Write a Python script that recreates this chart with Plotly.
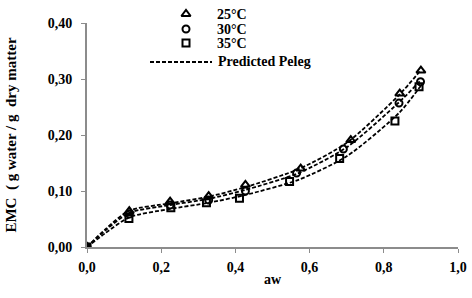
import plotly.graph_objects as go

# Experimental data (water activity, EMC)
aw_25 = [0.0, 0.114, 0.224, 0.328, 0.427, 0.576, 0.711, 0.843, 0.900]
emc_25 = [0.0, 0.064, 0.081, 0.091, 0.111, 0.140, 0.191, 0.274, 0.315]
aw_30 = [0.0, 0.114, 0.224, 0.328, 0.427, 0.565, 0.691, 0.841, 0.899]
emc_30 = [0.0, 0.059, 0.075, 0.084, 0.100, 0.132, 0.175, 0.257, 0.295]
aw_35 = [0.0, 0.113, 0.226, 0.322, 0.411, 0.546, 0.681, 0.830, 0.895]
emc_35 = [0.0, 0.051, 0.070, 0.079, 0.087, 0.117, 0.158, 0.225, 0.286]

# Predicted Peleg curves
pred_aw = [0.0, 0.05, 0.114, 0.224, 0.328, 0.427, 0.57, 0.70, 0.842, 0.900]
pred_25 = [0.0, 0.032, 0.065, 0.078, 0.090, 0.107, 0.139, 0.186, 0.272, 0.316]
pred_30 = [0.0, 0.030, 0.061, 0.075, 0.086, 0.102, 0.132, 0.178, 0.259, 0.298]
pred_35 = [0.0, 0.025, 0.053, 0.068, 0.079, 0.093, 0.120, 0.162, 0.240, 0.288]

x_ticks = [0.0, 0.2, 0.4, 0.6, 0.8, 1.0]
y_ticks = [0.0, 0.1, 0.2, 0.3, 0.4]

series_names = ["25°C", "30°C", "35°C"]
series_symbols = ["triangle-up-open", "circle-open", "square-open"]
series_sizes = [8, 7, 7]
model_name = "Predicted Peleg"

FONT = "Liberation Serif"
W, H = 472, 298
L, R, T, B = 87, 14, 23, 51          # plot box margins (pixels)

fig = go.Figure()
dash_line = dict(color="black", width=1.8, dash="4px,2px")

for pr in [pred_25, pred_30, pred_35]:
    fig.add_trace(go.Scatter(x=pred_aw, y=pr, mode="lines",
                             line=dict(dash_line, shape="spline", smoothing=0.7),
                             name=model_name, showlegend=False))

marker_line = dict(color="black", width=2)
for aw, emc, name, sym, sz in zip([aw_25, aw_30, aw_35], [emc_25, emc_30, emc_35],
                                  series_names, series_symbols, series_sizes):
    fig.add_trace(go.Scatter(x=aw, y=emc, mode="markers", name=name, showlegend=False,
                             marker=dict(symbol=sym, size=sz, color="black", line=marker_line)))

# ---- legend box drawn on a full-figure pixel-space axis pair (layout only) ----
leg_marker_x = 186
leg_text_x = 215
leg_rows_y = [14, 29, 43]
leg_line_x = [150, 212]
leg_line_y = 62
for name, sym, sz, ry in zip(series_names, series_symbols, series_sizes, leg_rows_y):
    fig.add_trace(go.Scatter(x=[leg_marker_x], y=[ry], xaxis="x2", yaxis="y2", mode="markers",
                             showlegend=False, hoverinfo="skip", cliponaxis=False,
                             marker=dict(symbol=sym, size=sz, color="black", line=marker_line)))
    fig.add_annotation(x=leg_text_x, y=ry, xref="x2", yref="y2", text=f"<b>{name}</b>", showarrow=False,
                       xanchor="left", yanchor="middle", font=dict(family=FONT, size=14, color="black"))
fig.add_trace(go.Scatter(x=leg_line_x, y=[leg_line_y, leg_line_y], xaxis="x2", yaxis="y2", mode="lines",
                         showlegend=False, hoverinfo="skip", cliponaxis=False, line=dash_line))
fig.add_annotation(x=leg_line_x[1] + 4, y=leg_line_y - 1, xref="x2", yref="y2", text=f"<b>{model_name}</b>",
                   showarrow=False, xanchor="left", yanchor="middle", font=dict(family=FONT, size=14, color="black"))

axis_grey = "#8c8c8c"
fig.update_layout(
    width=W, height=H,
    margin=dict(l=0, r=0, t=0, b=0, autoexpand=False),
    paper_bgcolor="white", plot_bgcolor="rgba(0,0,0,0)",
    separators=",.",
    font=dict(family=FONT, size=14, color="black"),
    showlegend=False,
    xaxis=dict(domain=[L / W, (W - R) / W], anchor="y",
               range=[0, 1.0], tickvals=x_ticks, tickformat=".1f", showgrid=False, zeroline=False,
               showline=True, linecolor=axis_grey, linewidth=2, ticks="outside", tickcolor=axis_grey,
               ticklen=4, tickwidth=1, ticklabelstandoff=2,
               tickfont=dict(family=FONT, size=14, weight="bold"),
               title=dict(text="aw", font=dict(family=FONT, size=14, weight="bold"), standoff=0)),
    yaxis=dict(domain=[B / H, (H - T) / H], anchor="x",
               range=[0, 0.40], tickvals=y_ticks, tickformat=".2f", showgrid=False, zeroline=False,
               showline=True, linecolor=axis_grey, linewidth=2, ticks="outside", tickcolor=axis_grey,
               ticklen=4, tickwidth=1, ticklabelstandoff=6,
               tickfont=dict(family=FONT, size=14, weight="bold"),
               title=dict(text="EMC  ( g water / g  dry matter", font=dict(family=FONT, size=15, weight="bold"),
                          standoff=27)),
    xaxis2=dict(domain=[0, 1], anchor="y2", range=[0, W], visible=False, fixedrange=True),
    yaxis2=dict(domain=[0, 1], anchor="x2", range=[H, 0], visible=False, fixedrange=True),
)

fig.write_html("out.html", config={"displayModeBar": False},
               post_script="document.body.style.margin='0';")
